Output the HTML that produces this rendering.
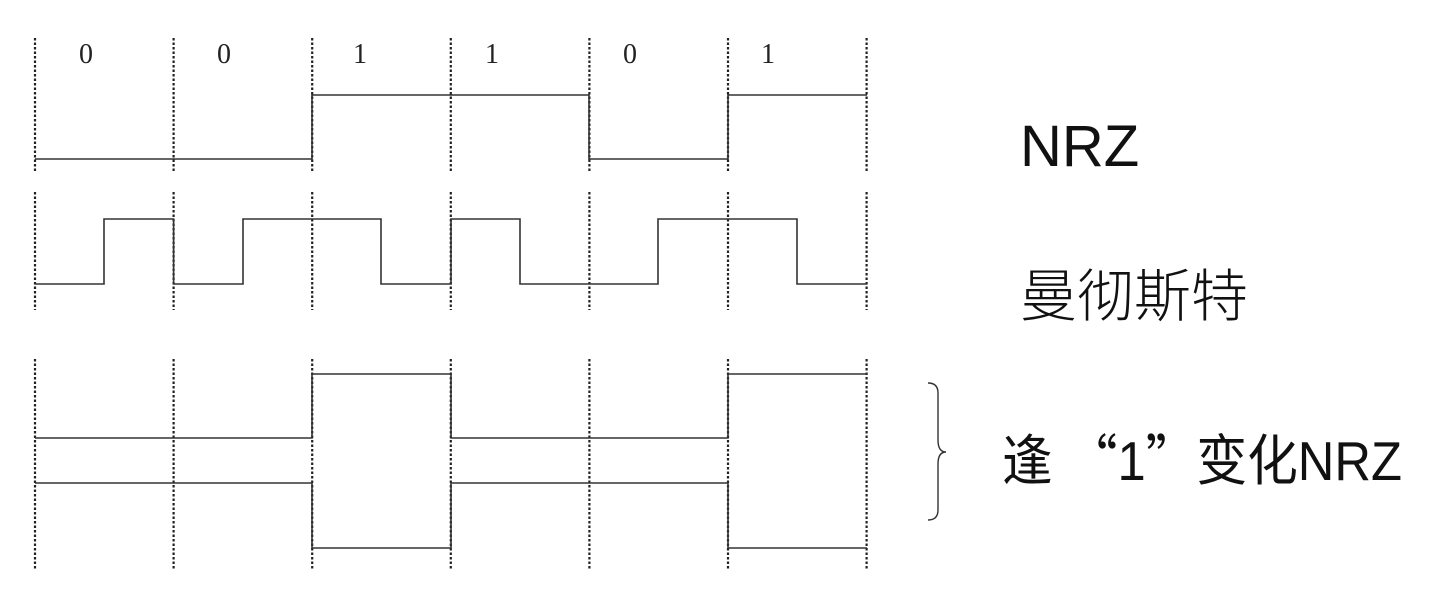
<!DOCTYPE html>
<html><head><meta charset="utf-8"><style>
html,body{margin:0;padding:0;background:#fff;}
svg{display:block;}
</style></head><body>
<svg width="1434" height="602" viewBox="0 0 1434 602" xmlns="http://www.w3.org/2000/svg">
<g stroke="#222" stroke-width="2.2" stroke-dasharray="2.5,2" fill="none">
<g id="d">
<line x1="35" y1="38" x2="35" y2="173"/><line x1="35" y1="192" x2="35" y2="310"/><line x1="35" y1="359" x2="35" y2="570"/>
</g>
<use href="#d" x="138.6"/><use href="#d" x="277.2"/><use href="#d" x="415.8"/><use href="#d" x="554.4"/><use href="#d" x="693"/><use href="#d" x="831.6"/>
</g>
<g stroke="#333" stroke-width="1.6" fill="none">
<polyline points="35,159 312,159 312,95 589,95 589,159 728,159 728,95 867,95"/>
<polyline points="35,284 104,284 104,219 173.6,219 173.6,284 243,284 243,219 381,219 381,284 451,284 451,219 520,219 520,284 658,284 658,219 797,219 797,284 867,284"/>
<polyline points="35,438 312,438 312,374 451,374 451,438 728,438 728,374 867,374"/>
<polyline points="35,483 312,483 312,548 451,548 451,483 728,483 728,548 867,548"/>
<path d="M928,383 Q938,383 938,393 L938,440 Q938,452 946,452 Q938,452 938,464 L938,510 Q938,520 928,520" stroke-width="1.4"/>
</g>
<g font-family="Liberation Serif, serif" font-size="28" fill="#222" text-anchor="middle">
<text x="86" y="63">0</text><text x="224" y="63">0</text><text x="360" y="63">1</text><text x="492" y="63">1</text><text x="630" y="63">0</text><text x="768" y="63">1</text>
</g>
<g font-family="Liberation Sans, 'Noto Sans CJK SC', sans-serif" fill="#111">
<text x="1020" y="166" font-size="58">NRZ</text>
<text x="1020" y="316" font-size="57" font-weight="300">曼彻斯特</text>
<text x="1002" y="480" font-size="55" textLength="400" lengthAdjust="spacingAndGlyphs">逢 <tspan font-family="'Noto Sans CJK SC', sans-serif">“</tspan>1<tspan font-family="'Noto Sans CJK SC', sans-serif">”</tspan>变化NRZ</text>
</g>
</svg>
</body></html>
